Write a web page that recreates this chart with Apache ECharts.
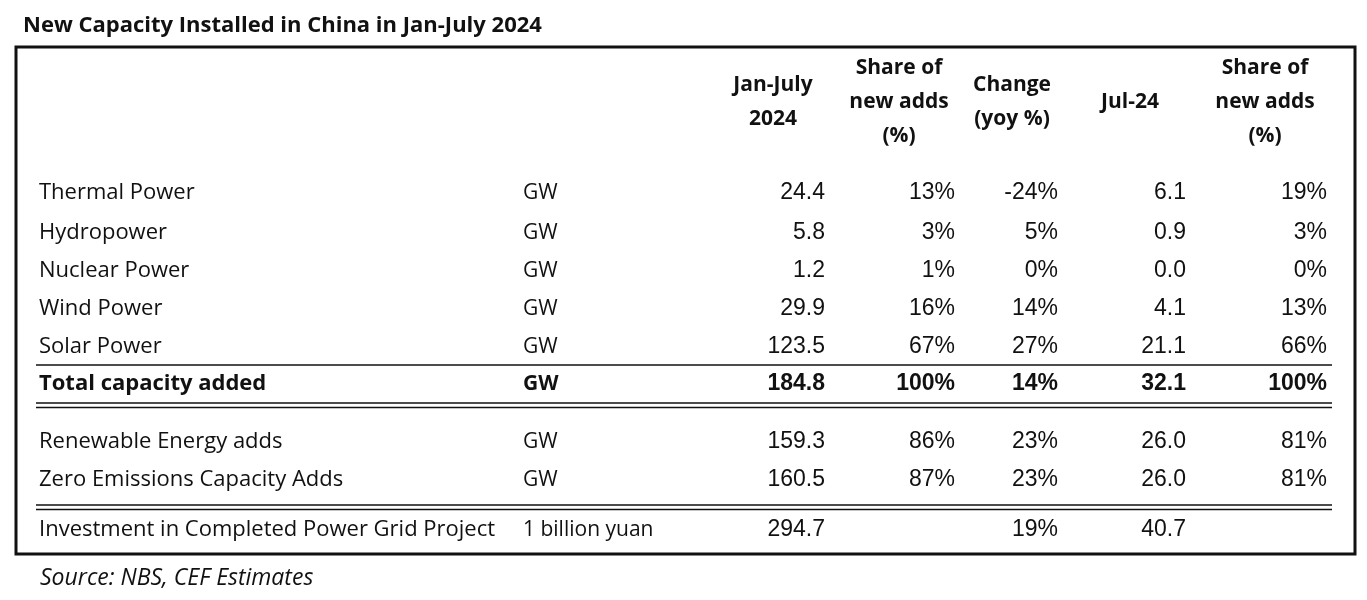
<!DOCTYPE html>
<html><head><meta charset="utf-8">
<script src="https://cdn.jsdelivr.net/npm/echarts@6/dist/echarts.min.js"></script>
<style>html,body{margin:0;padding:0;background:#fff}#c{width:1367px;height:600px}</style>
</head><body><div id="c"></div>
<script>
// ---- data ----
const rowLabels = ['Thermal Power','Hydropower','Nuclear Power','Wind Power','Solar Power','Total capacity added','Renewable Energy adds','Zero Emissions Capacity Adds','Investment in Completed Power Grid Project'];
const units = ['GW','GW','GW','GW','GW','GW','GW','GW','1 billion yuan'];
const janJul2024 = [24.4, 5.8, 1.2, 29.9, 123.5, 184.8, 159.3, 160.5, 294.7];
const shareJanJul = [13, 3, 1, 16, 67, 100, 86, 87, null];
const yoyChange = [-24, 5, 0, 14, 27, 14, 23, 23, 19];
const jul24 = [6.1, 0.9, 0.0, 4.1, 21.1, 32.1, 26.0, 26.0, 40.7];
const shareJul = [19, 3, 0, 13, 66, 100, 81, 81, null];
const headers = ['Jan-July\n2024', 'Share of\nnew adds\n(%)', 'Change\n(yoy %)', 'Jul-24', 'Share of\nnew adds\n(%)'];
const boldRows = ['Total capacity added'];

// ---- layout (pixel coordinates of the page) ----
const rowY = [193, 233, 271, 309, 347, 384, 442, 480, 530];
const labelX = 39, unitX = 523;
const colRight = [825, 955, 1058, 1186, 1327];
const headerX = [773, 899, 1012, 1130, 1265];
const headerY = 102;
const rules = [[36, 1332, 365, 1.5], [36, 1332, 403, 1.5], [36, 1332, 407.5, 1.5], [36, 1332, 505, 1.5], [36, 1332, 509.5, 1.5]];
const box = [16, 47, 1355, 554];

const LABEL_FONT = '"Open Sans", Roboto, sans-serif';
const NUM_FONT = '"Liberation Sans", Arial, sans-serif';

const fmt1 = v => v == null ? '' : v.toFixed(1);
const fmtP = v => v == null ? '' : v + '%';

function textSeries(name, xs, ys, texts, align, family, size, boldFn) {
  const data = texts.map((t, i) => [xs[i], ys[i], t, boldFn ? (boldFn(i) ? 1 : 0) : 0]);
  return {
    type: 'custom', name, data,
    encode: {x: 0, y: 1},
    renderItem: (params, api) => {
      const p = api.coord([api.value(0), api.value(1)]);
      const d = data[params.dataIndex];
      return {
        type: 'text', x: p[0], y: p[1],
        style: {
          text: d[2], textAlign: align, textVerticalAlign: 'middle',
          fontFamily: family, fontSize: size, fontWeight: d[3] ? 'bold' : 'normal',
          fill: '#111'
        }
      };
    }
  };
}

const isBold = i => boldRows.includes(rowLabels[i]);
const columns = [
  janJul2024.map(fmt1), shareJanJul.map(fmtP), yoyChange.map(fmtP), jul24.map(fmt1), shareJul.map(fmtP)
];

const series = [];
series.push(textSeries('labels', rowLabels.map(() => labelX), rowY, rowLabels, 'left', LABEL_FONT, 22, isBold));
series.push(textSeries('units', units.map(() => unitX), rowY, units, 'left', LABEL_FONT, 21, isBold));
columns.forEach((col, c) => {
  series.push(textSeries('col' + c, col.map(() => colRight[c]), rowY, col, 'right', NUM_FONT, 23, isBold));
});
// headers
series.push({
  type: 'custom', name: 'headers',
  data: headers.map((h, i) => [headerX[i], headerY]),
  encode: {x: 0, y: 1},
  renderItem: (params, api) => {
    const p = api.coord([api.value(0), api.value(1)]);
    return {type: 'text', x: p[0], y: p[1], style: {
      text: headers[params.dataIndex], textAlign: 'center', textVerticalAlign: 'middle',
      fontFamily: LABEL_FONT, fontSize: 21, fontWeight: 'bold', lineHeight: 34, fill: '#111'}};
  }
});
// rules
series.push({
  type: 'custom', name: 'rules', data: rules, encode: {x: 0, y: 2},
  renderItem: (params, api) => {
    const a = api.coord([api.value(0), api.value(2)]);
    const b = api.coord([api.value(1), api.value(2)]);
    return {type: 'line', shape: {x1: a[0], y1: a[1], x2: b[0], y2: b[1]},
      style: {stroke: '#111', lineWidth: api.value(3)}};
  }
});
// box
series.push({
  type: 'custom', name: 'box', data: [box], encode: {x: 0, y: 1},
  renderItem: (params, api) => {
    const a = api.coord([api.value(0), api.value(1)]);
    const b = api.coord([api.value(2), api.value(3)]);
    return {type: 'rect', shape: {x: a[0], y: a[1], width: b[0] - a[0], height: b[1] - a[1]},
      style: {stroke: '#111', lineWidth: 3, fill: 'none'}};
  }
});

const chart = echarts.init(document.getElementById('c'), null, {renderer: 'canvas'});
chart.setOption({
  animation: false,
  title: [
    {text: 'New Capacity Installed in China in Jan-July 2024', left: 18, top: 10,
     textStyle: {fontFamily: LABEL_FONT, fontSize: 22, fontWeight: 'bold', color: '#111'}},
    {text: 'Source: NBS, CEF Estimates', left: 35, top: 562,
     textStyle: {fontFamily: LABEL_FONT, fontSize: 23, fontStyle: 'italic', fontWeight: 'normal', color: '#111'}}
  ],
  grid: {left: 0, right: 0, top: 0, bottom: 0},
  xAxis: {type: 'value', min: 0, max: 1367, show: false},
  yAxis: {type: 'value', min: 0, max: 600, inverse: true, show: false},
  series
});
</script></body></html>
